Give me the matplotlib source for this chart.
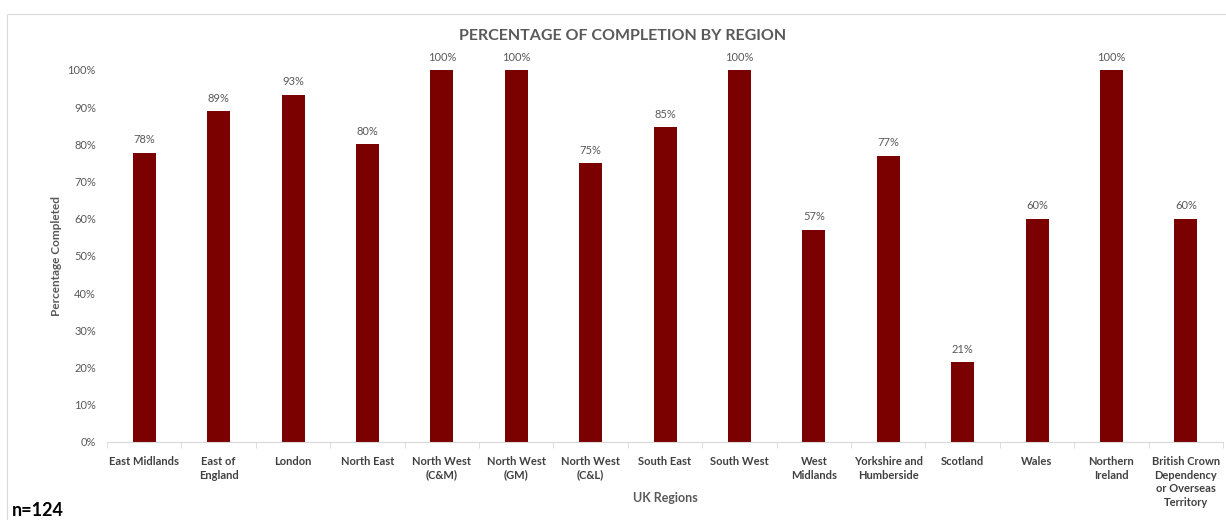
import numpy as np
import matplotlib.pyplot as plt
from matplotlib.patches import Rectangle
from matplotlib.ticker import PercentFormatter

regions = ['East Midlands', 'East of\nEngland', 'London', 'North East', 'North West\n(C&M)',
           'North West\n(GM)', 'North West\n(C&L)', 'South East', 'South West', 'West\nMidlands',
           'Yorkshire and\nHumberside', 'Scotland', 'Wales', 'Northern\nIreland',
           'British Crown\nDependency\nor Overseas\nTerritory']
completed = [0.778, 0.889, 0.933, 0.80, 1.0, 1.0, 0.75, 0.846, 1.0, 0.571, 0.769, 0.214, 0.60, 1.0, 0.60]
labels = ['78%', '89%', '93%', '80%', '100%', '100%', '75%', '85%', '100%', '57%', '77%', '21%',
          '60%', '100%', '60%']

plt.rcParams['font.family'] = ['Lato', 'DejaVu Sans']
grey = '#595959'

fig = plt.figure(figsize=(12.26, 5.2), dpi=100)
ax = fig.add_axes([0.0873, 0.15, 0.9103, 0.7154])

# outer chart frame
fig.patches.append(Rectangle((7 / 1226, -0.1), 1.2, 1 - 14 / 520 + 0.1, transform=fig.transFigure,
                             fill=False, edgecolor='#d9d9d9', linewidth=0.8))

x = np.arange(len(regions))
ax.bar(x, completed, width=0.31, color='#7b0000')
for xi, v, lab in zip(x, completed, labels):
    ax.text(xi, v + 0.02, lab, ha='center', va='bottom', fontsize=8, color=grey)

ax.set_xlim(-0.5, len(regions) - 0.5)
ax.set_ylim(0, 1)
ax.yaxis.set_major_formatter(PercentFormatter(1.0, decimals=0))
ax.set_yticks(np.arange(0, 1.01, 0.1))
ax.tick_params(axis='y', length=0, labelsize=8, labelcolor=grey, pad=8)

ax.set_xticks(x)
ax.set_xticklabels(regions, fontsize=8, color='#404040', fontweight='bold', linespacing=1.3)
ax.set_xticks(np.arange(-0.5, len(regions), 1), minor=True)
ax.tick_params(axis='x', which='major', length=0, pad=10)
ax.tick_params(axis='x', which='minor', length=4, color='#d9d9d9')

for side in ['top', 'right', 'left']:
    ax.spines[side].set_visible(False)
ax.spines['bottom'].set_color('#d9d9d9')

ax.set_ylabel('Percentage Completed', fontsize=8.5, fontweight='bold', color=grey, labelpad=4)
fig.text(665 / 1226, 1 - 498 / 520, 'UK Regions', ha='center', va='center', fontsize=9,
         fontweight='bold', color=grey)
fig.text(623 / 1226, 1 - 36 / 520, 'PERCENTAGE OF COMPLETION BY REGION', ha='center', va='center',
         fontsize=11.5, fontweight='bold', color=grey)
fig.text(12 / 1226, 1 - 510 / 520, 'n=124', ha='left', va='center', fontsize=13, fontweight='bold',
         color='black')

fig.savefig('out.png', dpi=100)
